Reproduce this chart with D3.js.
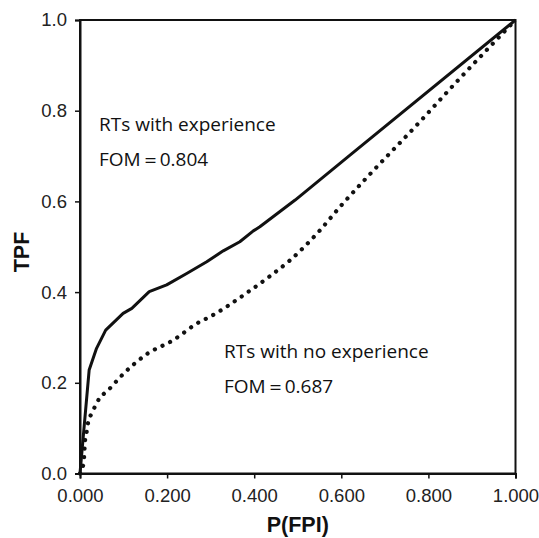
<!DOCTYPE html>
<html>
<head>
<meta charset="utf-8">
<script src="https://cdn.jsdelivr.net/npm/d3@7"></script>
<style>
html,body{margin:0;padding:0;background:#fff;}
svg{display:block;}
</style>
</head>
<body>
<svg id="chart" width="539" height="538"></svg>
<script>
// Data
const expFPI = [0, 0.021, 0.038, 0.059, 0.099, 0.119, 0.159, 0.199, 0.245, 0.291, 0.329, 0.367, 0.398, 0.413, 0.494, 0.620, 1];
const expTPF = [0, 0.228, 0.276, 0.316, 0.353, 0.364, 0.401, 0.416, 0.441, 0.467, 0.491, 0.511, 0.535, 0.544, 0.603, 0.702, 1];
const noExpFPI = [0, 0.008, 0.010, 0.011, 0.015, 0.019, 0.028, 0.038, 0.069, 0.099, 0.153, 0.214, 0.276, 0.291, 0.390, 0.440, 0.482, 0.547, 0.597, 0.658, 0.773, 0.869, 0.949, 1];
const noExpTPF = [0, 0.022, 0.044, 0.066, 0.090, 0.114, 0.134, 0.155, 0.188, 0.219, 0.263, 0.294, 0.335, 0.342, 0.403, 0.438, 0.470, 0.532, 0.588, 0.652, 0.768, 0.868, 0.949, 1];
const xTicks = [0, 0.2, 0.4, 0.6, 0.8, 1.0];
const yTicks = [0, 0.2, 0.4, 0.6, 0.8, 1.0];
const labelExp = ["RTs with experience", "FOM\uFF1D0.804"];
const labelNoExp = ["RTs with no experience", "FOM\uFF1D0.687"];
const xTitle = "P(FPI)";
const yTitle = "TPF";

const svg = d3.select("#chart");
const L = 80, R = 515.5, T = 20, B = 473.5;
const x = d3.scaleLinear().domain([0, 1]).range([L, R]);
const y = d3.scaleLinear().domain([0, 1]).range([B, T]);
const ink = "#111";

// frame
svg.append("rect").attr("x", L).attr("y", T).attr("width", R - L).attr("height", B - T)
  .attr("fill", "none").attr("stroke", ink).attr("stroke-width", 2);

// axes
const xAxis = d3.axisBottom(x).tickValues(xTicks).tickFormat(d3.format(".3f")).tickSize(5).tickPadding(10);
const yAxis = d3.axisLeft(y).tickValues(yTicks).tickFormat(d3.format(".1f")).tickSize(5).tickPadding(8);

const gx = svg.append("g").attr("transform", `translate(0,${B})`).call(xAxis);
const gy = svg.append("g").attr("transform", `translate(${L},0)`).call(yAxis);
[gx, gy].forEach(g => {
  g.select(".domain").attr("stroke", ink).attr("stroke-width", 2);
  g.selectAll(".tick line").attr("stroke", ink).attr("stroke-width", 1.5);
  g.selectAll(".tick text").attr("fill", "#222")
    .style("font-family", "'Liberation Sans', Arial, sans-serif").style("font-size", "18.5px");
});

// curves
const line = d3.line().x(d => x(d[0])).y(d => y(d[1]));
const smoothLine = d3.line().x(d => x(d[0])).y(d => y(d[1])).curve(d3.curveMonotoneX);
const expData = expFPI.map((v, i) => [v, expTPF[i]]);
const noExpData = noExpFPI.map((v, i) => [v, noExpTPF[i]]);

svg.append("path").datum(noExpData).attr("d", smoothLine)
  .attr("fill", "none").attr("stroke", ink).attr("stroke-width", 4.2)
  .attr("stroke-linecap", "round").attr("stroke-dasharray", "0.1 8.4");

svg.append("path").datum(expData).attr("d", line)
  .attr("fill", "none").attr("stroke", ink).attr("stroke-width", 3)
  .attr("stroke-linejoin", "round");

// annotations
const annFont = "'Open Sans', sans-serif";
function annot(lines, px, py) {
  lines.forEach((t, i) => {
    svg.append("text").attr("x", px).attr("y", py + i * 34.5)
      .attr("fill", "#111").style("font-family", annFont).style("font-size", "19px")
      .text(t);
  });
}
annot(labelExp, 99, 131);
annot(labelNoExp, 224, 358);

// axis titles
svg.append("text").attr("x", (L + R) / 2).attr("y", 531.5).attr("text-anchor", "middle")
  .attr("fill", "#111").style("font-family", "'Liberation Sans', Arial, sans-serif")
  .style("font-weight", "bold").style("font-size", "21.5px").text(xTitle);

svg.append("text").attr("transform", `translate(28.5,252) rotate(-90)`).attr("text-anchor", "middle")
  .attr("fill", "#111").style("font-family", "'Liberation Sans', Arial, sans-serif")
  .style("font-weight", "bold").style("font-size", "21.5px").text(yTitle);
</script>
</body>
</html>
